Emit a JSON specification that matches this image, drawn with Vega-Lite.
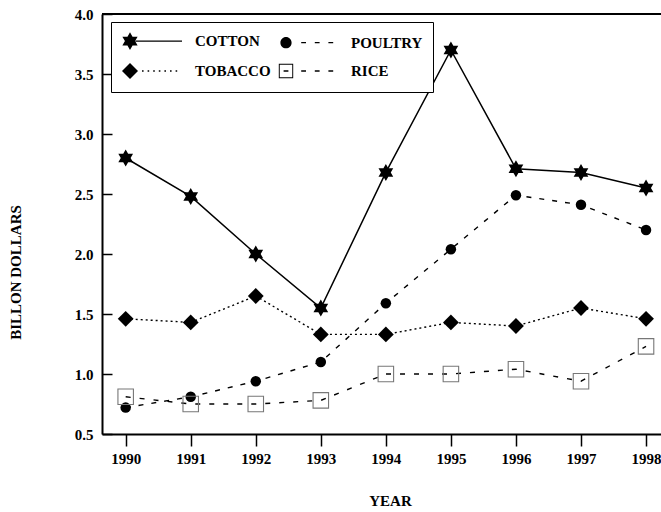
{
  "$schema": "https://vega.github.io/schema/vega-lite/v6.json",
  "width": 559,
  "height": 420,
  "autosize": {"type": "none"},
  "padding": {"left": 102, "top": 14, "right": 0, "bottom": 78},
  "background": "white",
  "config": {
    "view": {"stroke": null},
    "font": "Liberation Serif",
    "axis": {
      "labelFont": "Liberation Serif",
      "labelFontWeight": "bold",
      "labelFontSize": 15,
      "labelColor": "black",
      "titleFont": "Liberation Serif",
      "titleFontWeight": "bold",
      "titleFontSize": 15,
      "titleColor": "black",
      "domainColor": "black",
      "domainWidth": 2,
      "tickColor": "black",
      "tickWidth": 1.5,
      "grid": false
    }
  },
  "data": {
    "values": [
      {"year": 1990, "crop": "COTTON", "value": 2.80},
      {"year": 1991, "crop": "COTTON", "value": 2.48},
      {"year": 1992, "crop": "COTTON", "value": 2.00},
      {"year": 1993, "crop": "COTTON", "value": 1.55},
      {"year": 1994, "crop": "COTTON", "value": 2.68},
      {"year": 1995, "crop": "COTTON", "value": 3.70},
      {"year": 1996, "crop": "COTTON", "value": 2.71},
      {"year": 1997, "crop": "COTTON", "value": 2.68},
      {"year": 1998, "crop": "COTTON", "value": 2.55},
      {"year": 1990, "crop": "POULTRY", "value": 0.72},
      {"year": 1991, "crop": "POULTRY", "value": 0.81},
      {"year": 1992, "crop": "POULTRY", "value": 0.94},
      {"year": 1993, "crop": "POULTRY", "value": 1.10},
      {"year": 1994, "crop": "POULTRY", "value": 1.59},
      {"year": 1995, "crop": "POULTRY", "value": 2.04},
      {"year": 1996, "crop": "POULTRY", "value": 2.49},
      {"year": 1997, "crop": "POULTRY", "value": 2.41},
      {"year": 1998, "crop": "POULTRY", "value": 2.20},
      {"year": 1990, "crop": "TOBACCO", "value": 1.46},
      {"year": 1991, "crop": "TOBACCO", "value": 1.43},
      {"year": 1992, "crop": "TOBACCO", "value": 1.65},
      {"year": 1993, "crop": "TOBACCO", "value": 1.33},
      {"year": 1994, "crop": "TOBACCO", "value": 1.33},
      {"year": 1995, "crop": "TOBACCO", "value": 1.43},
      {"year": 1996, "crop": "TOBACCO", "value": 1.40},
      {"year": 1997, "crop": "TOBACCO", "value": 1.55},
      {"year": 1998, "crop": "TOBACCO", "value": 1.46},
      {"year": 1990, "crop": "RICE", "value": 0.81},
      {"year": 1991, "crop": "RICE", "value": 0.75},
      {"year": 1992, "crop": "RICE", "value": 0.75},
      {"year": 1993, "crop": "RICE", "value": 0.78},
      {"year": 1994, "crop": "RICE", "value": 1.00},
      {"year": 1995, "crop": "RICE", "value": 1.00},
      {"year": 1996, "crop": "RICE", "value": 1.04},
      {"year": 1997, "crop": "RICE", "value": 0.94},
      {"year": 1998, "crop": "RICE", "value": 1.23}
    ]
  },
  "layer": [
    {
      "mark": {"type": "rule", "color": "black", "strokeWidth": 2},
      "encoding": {
        "y": {
          "datum": 4, "type": "quantitative",
          "scale": {"domain": [0.5, 4], "nice": false, "zero": false},
          "axis": {
            "title": "BILLON DOLLARS",
            "values": [0.5, 0.75, 1, 1.25, 1.5, 1.75, 2, 2.25, 2.5, 2.75, 3, 3.25, 3.5, 3.75, 4],
            "labelExpr": "datum.value % 0.5 === 0 ? format(datum.value, '.1f') : ''",
            "tickSize": {"condition": {"test": "datum.value % 0.5 === 0", "value": -10}, "value": 5},
            "labelPadding": {"condition": {"test": "datum.value % 0.5 === 0", "value": 19}, "value": 4},
            "labelFlush": false,
            "labelOverlap": false,
            "titleX": -87,
            "titleY": 258,
            "titleAlign": "center",
            "titleBaseline": "middle"
          }
        }
      }
    },
    {
      "transform": [{"filter": "datum.crop === 'COTTON'"}],
      "mark": {"type": "line", "color": "black", "strokeWidth": 1.5},
      "encoding": {
        "x": {
          "field": "year", "type": "quantitative",
          "scale": {"domain": [1989.636, 1998.23], "nice": false, "zero": false},
          "axis": {
            "title": "YEAR",
            "values": [1990, 1991, 1992, 1993, 1994, 1995, 1996, 1997, 1998],
            "format": "d",
            "tickSize": 12,
            "labelPadding": 5,
            "labelFlush": false,
            "labelOverlap": false,
            "titleX": 288,
            "titleY": 66,
            "titleAlign": "center",
            "titleBaseline": "middle"
          }
        },
        "y": {"field": "value", "type": "quantitative", "title": "BILLON DOLLARS"}
      }
    },
    {
      "transform": [{"filter": "datum.crop === 'POULTRY'"}],
      "mark": {"type": "line", "color": "black", "strokeWidth": 1.4, "strokeDash": [5, 8]},
      "encoding": {
        "x": {"field": "year", "type": "quantitative", "title": "YEAR"},
        "y": {"field": "value", "type": "quantitative", "title": "BILLON DOLLARS"}
      }
    },
    {
      "transform": [{"filter": "datum.crop === 'TOBACCO'"}],
      "mark": {"type": "line", "color": "black", "strokeWidth": 1.4, "strokeDash": [2, 3]},
      "encoding": {
        "x": {"field": "year", "type": "quantitative", "title": "YEAR"},
        "y": {"field": "value", "type": "quantitative", "title": "BILLON DOLLARS"}
      }
    },
    {
      "transform": [{"filter": "datum.crop === 'RICE'"}],
      "mark": {"type": "line", "color": "black", "strokeWidth": 1.4, "strokeDash": [5, 9]},
      "encoding": {
        "x": {"field": "year", "type": "quantitative", "title": "YEAR"},
        "y": {"field": "value", "type": "quantitative", "title": "BILLON DOLLARS"}
      }
    },
    {
      "transform": [{"filter": "datum.crop === 'COTTON'"}],
      "mark": {"type": "point", "filled": true, "color": "black", "opacity": 1, "size": 289,
        "shape": "M0,-1L0.2887,-0.5L0.866,-0.5L0.5774,0L0.866,0.5L0.2887,0.5L0,1L-0.2887,0.5L-0.866,0.5L-0.5774,0L-0.866,-0.5L-0.2887,-0.5Z"},
      "encoding": {
        "x": {"field": "year", "type": "quantitative", "title": "YEAR"},
        "y": {"field": "value", "type": "quantitative", "title": "BILLON DOLLARS"}
      }
    },
    {
      "transform": [{"filter": "datum.crop === 'POULTRY'"}],
      "mark": {"type": "point", "filled": true, "color": "black", "opacity": 1, "size": 110, "shape": "circle"},
      "encoding": {
        "x": {"field": "year", "type": "quantitative", "title": "YEAR"},
        "y": {"field": "value", "type": "quantitative", "title": "BILLON DOLLARS"}
      }
    },
    {
      "transform": [{"filter": "datum.crop === 'TOBACCO'"}],
      "mark": {"type": "point", "filled": true, "color": "black", "opacity": 1, "size": 250, "shape": "diamond"},
      "encoding": {
        "x": {"field": "year", "type": "quantitative", "title": "YEAR"},
        "y": {"field": "value", "type": "quantitative", "title": "BILLON DOLLARS"}
      }
    },
    {
      "transform": [{"filter": "datum.crop === 'RICE'"}],
      "mark": {"type": "point", "filled": false, "color": "#777777", "opacity": 1, "size": 240, "shape": "square", "strokeWidth": 1.1},
      "encoding": {
        "x": {"field": "year", "type": "quantitative", "title": "YEAR"},
        "y": {"field": "value", "type": "quantitative", "title": "BILLON DOLLARS"}
      }
    },
    {
      "mark": {"type": "point", "filled": true, "color": "black", "opacity": 0},
      "encoding": {
        "x": {"field": "year", "type": "quantitative", "title": "YEAR"},
        "y": {"field": "value", "type": "quantitative", "title": "BILLON DOLLARS"},
        "shape": {
          "field": "crop", "type": "nominal",
          "scale": {
            "domain": ["COTTON", "POULTRY", "TOBACCO", "RICE"],
            "range": [
              "M0,-1.1L0.3175,-0.55L0.9526,-0.55L0.6351,0L0.9526,0.55L0.3175,0.55L0,1.1L-0.3175,0.55L-0.9526,0.55L-0.6351,0L-0.9526,-0.55L-0.3175,-0.55ZM0.7,-0.08H6.5V0.08H0.7Z",
              "M-0.7,0A0.7,0.7 0 1,0 0.7,0A0.7,0.7 0 1,0 -0.7,0ZM1.9,-0.08H2.5V0.08H1.9ZM3.6,-0.08H4.2V0.08H3.6ZM5.3,-0.08H5.9V0.08H5.3Z",
              "M0,-1L1,0L0,1L-1,0ZM1.5,-0.09H1.7V0.09H1.5ZM2.2,-0.09H2.4V0.09H2.2ZM2.9,-0.09H3.1V0.09H2.9ZM3.6,-0.09H3.8V0.09H3.6ZM4.3,-0.09H4.5V0.09H4.3ZM5.0,-0.09H5.2V0.09H5.0ZM5.7,-0.09H5.9V0.09H5.7Z",
              "M-0.9,-0.9H0.9V0.9H-0.9ZM-0.78,-0.78V0.78H0.78V-0.78ZM-0.3,-0.08H0.3V0.08H-0.3ZM1.9,-0.08H2.5V0.08H1.9ZM3.6,-0.08H4.2V0.08H3.6ZM5.3,-0.08H5.9V0.08H5.3Z"
            ]
          },
          "legend": {
            "title": null,
            "orient": "none",
            "legendX": 9,
            "legendY": 8,
            "columns": 2,
            "direction": "horizontal",
            "symbolSize": 256,
            "labelFont": "Liberation Serif",
            "labelFontWeight": "bold",
            "labelFontSize": 15,
            "labelColor": "black",
            "labelOffset": 56,
            "padding": 10,
            "rowPadding": 7,
            "columnPadding": 4,
            "strokeColor": "black",
            "fillColor": "white",
            "encode": {
              "legend": {"update": {"stroke": {"value": "black"}, "strokeWidth": {"value": 2}, "fill": {"value": "white"}}},
              "symbols": {"update": {"fill": {"value": "black"}, "opacity": {"value": 1}, "strokeWidth": {"value": 0}}}
            }
          }
        }
      }
    }
  ]
}
